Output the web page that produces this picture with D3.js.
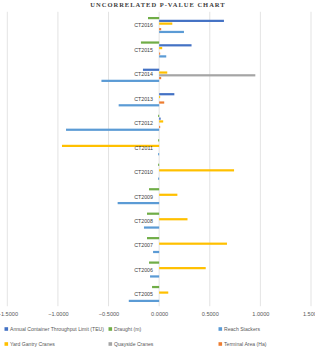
<!DOCTYPE html>
<html>
<head>
<meta charset="utf-8">
<script src="https://cdn.jsdelivr.net/npm/d3@7"></script>
<style>
  body { margin: 0; background: #fff; }
  text { font-family: "Liberation Sans", Arial, sans-serif; fill: #595959; }
</style>
</head>
<body>
<script>
// categories, top to bottom
var categories = ["CT2016", "CT2015", "CT2014", "CT2013", "CT2012", "CT2011",
                  "CT2010", "CT2009", "CT2008", "CT2007", "CT2006", "CT2005"];

// series values (same order as categories)
var annualTEU    = [0.64, 0.32, -0.16, 0.15, 0.015, 0, 0, 0, 0, 0, 0, 0];
var draught      = [-0.11, -0.18, 0, 0, -0.01, -0.01, -0.01, -0.10, -0.12, -0.12, -0.10, -0.07];
var reachStack   = [0.245, 0.07, -0.57, -0.40, -0.92, -0.01, -0.01, -0.41, -0.15, -0.06, -0.09, -0.30];
var yardGantry   = [0.13, 0.03, 0.08, 0.01, 0.04, -0.96, 0.74, 0.18, 0.28, 0.67, 0.46, 0.09];
var quayside     = [0, 0, 0.95, 0, 0, 0, 0, 0, 0, 0, 0, 0];
var terminalArea = [0.02, 0.01, 0.02, 0.05, 0.01, 0, 0, 0, 0, 0, 0, 0];

var xTicks = [-1.5, -1.0, -0.5, 0, 0.5, 1.0, 1.5];

// series: name, values, colour (legend order)
var series = [
  {key: "annual",   name: "Annual Container Throughput Limit (TEU)", values: annualTEU,    color: "#4472C4"},
  {key: "draught",  name: "Draught (m)",                             values: draught,      color: "#70AD47"},
  {key: "reach",    name: "Reach Stackers",                          values: reachStack,   color: "#5B9BD5"},
  {key: "yard",     name: "Yard Gantry Cranes",                      values: yardGantry,   color: "#FFC000"},
  {key: "quay",     name: "Quayside Cranes",                         values: quayside,     color: "#A5A5A5"},
  {key: "terminal", name: "Terminal Area (Ha)",                      values: terminalArea, color: "#ED7D31"}
];
// order of bars inside each category, top to bottom
var slotOrder = ["draught", "annual", "yard", "quay", "terminal", "reach"];

var W = 315, H = 355;
var plot = {left: 7.3, right: 311, top: 12.8, bottom: 306.2};

var svg = d3.select("body").append("svg")
    .attr("width", W).attr("height", H);

var x = d3.scaleLinear().domain([-1.5, 1.5]).range([plot.left, plot.right]);

var y0 = d3.scaleBand().domain(categories)
    .range([plot.top, plot.bottom])
    .paddingInner(0.32).paddingOuter(0.16);

var y1 = d3.scaleBand().domain(slotOrder).range([0, y0.bandwidth()]);

// title
svg.append("text")
    .attr("x", 158).attr("y", 7)
    .attr("text-anchor", "middle")
    .style("font-family", "'Liberation Serif', 'Times New Roman', serif")
    .style("font-weight", "bold")
    .style("font-size", "6.5px")
    .style("letter-spacing", "1px")
    .style("fill", "#404040")
    .text("UNCORRELATED P-VALUE CHART");

// gridlines
svg.append("g").selectAll("line")
    .data(xTicks)
    .enter().append("line")
    .attr("x1", function(d) { return x(d); })
    .attr("x2", function(d) { return x(d); })
    .attr("y1", plot.top - 1)
    .attr("y2", plot.bottom)
    .attr("stroke", "#d9d9d9")
    .attr("stroke-width", 0.75);

// tick labels
var xAxis = d3.axisBottom(x).tickValues(xTicks).tickSize(0).tickPadding(0)
    .tickFormat(d3.format(".4f"));
var gx = svg.append("g")
    .attr("transform", "translate(0," + (plot.bottom + 5.5) + ")")
    .call(xAxis);
gx.select(".domain").remove();
gx.selectAll("text")
    .style("font-size", "5.6px")
    .attr("dy", "0.75em")
    .style("fill", "#595959");

// bars
var groups = svg.append("g").selectAll("g")
    .data(categories)
    .enter().append("g")
    .attr("transform", function(d) { return "translate(0," + y0(d) + ")"; });

groups.selectAll("rect")
    .data(function(c, i) {
        return series.map(function(s) { return {key: s.key, value: s.values[i], color: s.color}; });
    })
    .enter().append("rect")
    .attr("x", function(d) { return x(Math.min(0, d.value)); })
    .attr("width", function(d) { return Math.abs(x(d.value) - x(0)); })
    .attr("y", function(d) { return y1(d.key) + y1.bandwidth() * 0.1; })
    .attr("height", y1.bandwidth() * 0.8)
    .attr("fill", function(d) { return d.color; });

// category labels
svg.append("g").selectAll("text")
    .data(categories)
    .enter().append("text")
    .attr("x", 153)
    .attr("y", function(d) { return y0(d) + y0.bandwidth() / 2 + 0.5; })
    .attr("dy", "0.35em")
    .attr("text-anchor", "end")
    .style("font-size", "5.3px")
    .style("fill", "#404040")
    .text(function(d) { return d; });

// legend
var legX = [7, 111, 221], legY = [329, 344];
var legend = svg.append("g").selectAll("g")
    .data(series)
    .enter().append("g")
    .attr("transform", function(d, i) {
        return "translate(" + legX[i % 3] + "," + legY[Math.floor(i / 3)] + ")";
    });

legend.append("rect")
    .attr("x", -2.5).attr("y", -1.8)
    .attr("width", 3.6).attr("height", 3.6)
    .attr("fill", function(d) { return d.color; });

legend.append("text")
    .attr("x", 3)
    .attr("dy", "0.35em")
    .style("font-size", "5.1px")
    .text(function(d) { return d.name; });
</script>
</body>
</html>
